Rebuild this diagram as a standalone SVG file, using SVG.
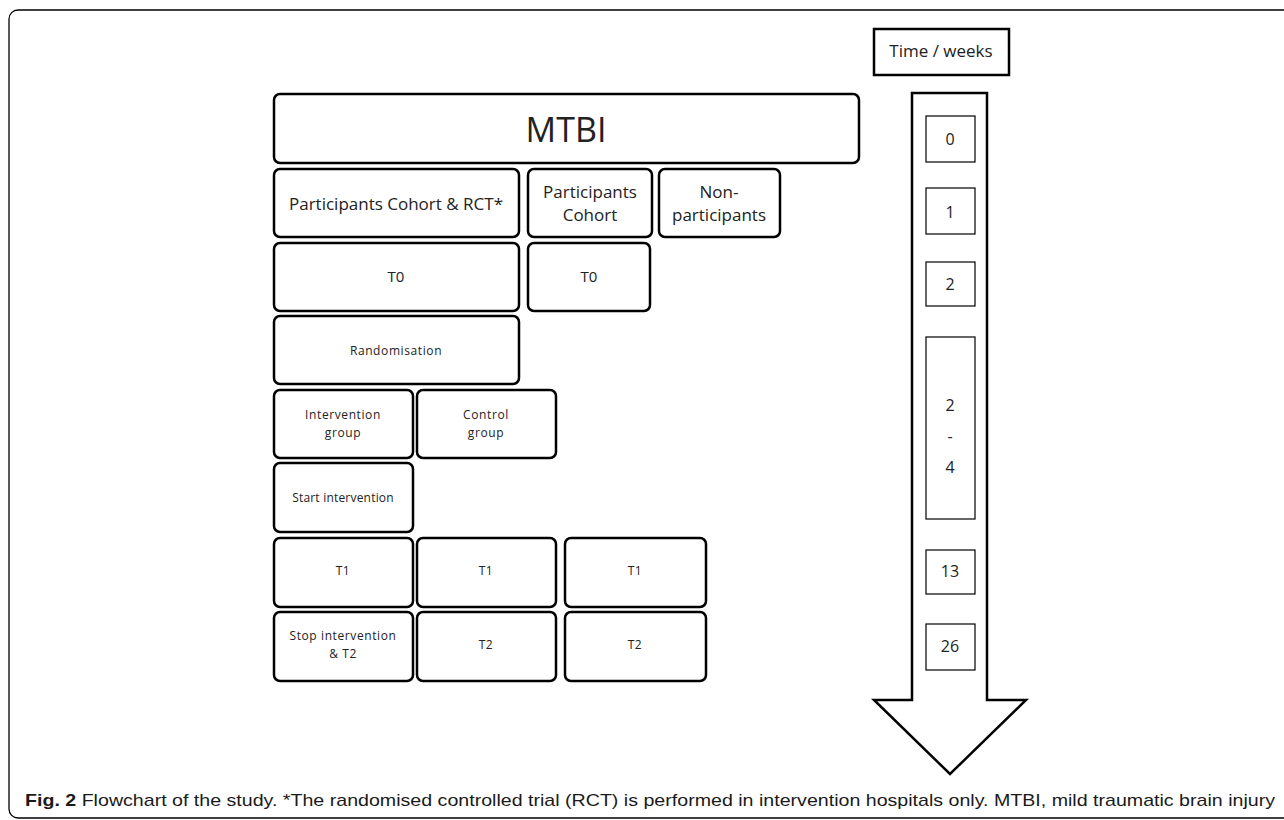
<svg xmlns="http://www.w3.org/2000/svg" width="1284" height="820" viewBox="0 0 1284 820">
<style>
.box{fill:#fff;stroke:#000;stroke-width:2.5}
.nb{fill:#fff;stroke:#000;stroke-width:1.2}
text{font-family:"Open Sans","Liberation Sans",sans-serif;fill:#222;text-anchor:middle}
.t16{font-size:15px}
.tn{font-size:16px}
.t13{font-size:12px;letter-spacing:0.6px}
.t19{font-size:17px}
</style>
<rect x="0" y="0" width="1284" height="820" fill="#fff"/>
<rect id="frame" x="9" y="10" width="1300" height="808" rx="9" fill="none" stroke="#000" stroke-width="1.3"/>
<g id="mtbi"><rect class="box" x="274" y="94" width="585" height="69" rx="6"/><text x="566" y="142" style="font-size:34px">MTBI</text></g>
<g id="p-rct"><rect class="box" x="274" y="169" width="245" height="68" rx="6"/><text class="t19" x="396" y="210">Participants Cohort &amp; RCT*</text></g>
<g id="p-cohort"><rect class="box" x="528" y="169" width="124" height="68" rx="6"/><text class="t19" x="590" y="198">Participants</text><text class="t19" x="590" y="221">Cohort</text></g>
<g id="nonpart"><rect class="box" x="659" y="169" width="121" height="68" rx="6"/><text class="t19" x="719" y="198">Non-</text><text class="t19" x="719" y="221">participants</text></g>
<g id="t0a"><rect class="box" x="274" y="243" width="245" height="68" rx="6"/><text class="t16" x="396" y="282">T0</text></g>
<g id="t0b"><rect class="box" x="528" y="243" width="122" height="68" rx="6"/><text class="t16" x="589" y="282">T0</text></g>
<g id="random"><rect class="box" x="274" y="316" width="245" height="68" rx="6"/><text class="t13" x="396" y="355">Randomisation</text></g>
<g id="intgroup"><rect class="box" x="274" y="390" width="139" height="68" rx="6"/><text class="t13" x="343" y="419">Intervention</text><text class="t13" x="343" y="437">group</text></g>
<g id="ctrlgroup"><rect class="box" x="417" y="390" width="139" height="68" rx="6"/><text class="t13" x="486" y="419">Control</text><text class="t13" x="486" y="437">group</text></g>
<g id="start"><rect class="box" x="274" y="463" width="139" height="69" rx="6"/><text class="t13" x="343" y="502" style="letter-spacing:0.2px">Start intervention</text></g>
<g id="t1a"><rect class="box" x="274" y="538" width="139" height="69" rx="6"/><text class="t13" x="343" y="575">T1</text></g>
<g id="t1b"><rect class="box" x="417" y="538" width="139" height="69" rx="6"/><text class="t13" x="486" y="575">T1</text></g>
<g id="t1c"><rect class="box" x="565" y="538" width="141" height="69" rx="6"/><text class="t13" x="635" y="575">T1</text></g>
<g id="stop"><rect class="box" x="274" y="612" width="139" height="69" rx="6"/><text class="t13" x="343" y="640">Stop intervention</text><text class="t13" x="343" y="658">&amp; T2</text></g>
<g id="t2b"><rect class="box" x="417" y="612" width="139" height="69" rx="6"/><text class="t13" x="486" y="649">T2</text></g>
<g id="t2c"><rect class="box" x="565" y="612" width="141" height="69" rx="6"/><text class="t13" x="635" y="649">T2</text></g>
<g id="time"><rect class="box" x="874" y="29" width="135" height="46"/><text x="941" y="57" style="font-size:17px">Time / weeks</text></g>
<g id="arrow"><path d="M912 93 H987 V700 H1026 L950 774 L874 700 H912 Z" fill="#fff" stroke="#000" stroke-width="2.5" stroke-linejoin="miter"/></g>
<g id="w0"><rect class="nb" x="926" y="116" width="49" height="46"/><text class="tn" x="950" y="145">0</text></g>
<g id="w1"><rect class="nb" x="926" y="188" width="49" height="46"/><text class="tn" x="950" y="218">1</text></g>
<g id="w2"><rect class="nb" x="926" y="262" width="49" height="44"/><text class="tn" x="950" y="290">2</text></g>
<g id="w24"><rect class="nb" x="926" y="337" width="49" height="182"/><text class="tn" x="950" y="411">2</text><text class="tn" x="950" y="442">-</text><text class="tn" x="950" y="473">4</text></g>
<g id="w13"><rect class="nb" x="926" y="550" width="49" height="44"/><text class="tn" x="950" y="577">13</text></g>
<g id="w26"><rect class="nb" x="926" y="624" width="49" height="46"/><text class="tn" x="950" y="652">26</text></g>
<g id="connectors"></g>
<text x="25" y="806" textLength="1250" lengthAdjust="spacingAndGlyphs" style="font-family:'Liberation Sans',sans-serif;font-size:17px;text-anchor:start;fill:#1a1a1a"><tspan font-weight="bold">Fig. 2</tspan> Flowchart of the study. *The randomised controlled trial (RCT) is performed in intervention hospitals only. MTBI, mild traumatic brain injury</text>
</svg>
